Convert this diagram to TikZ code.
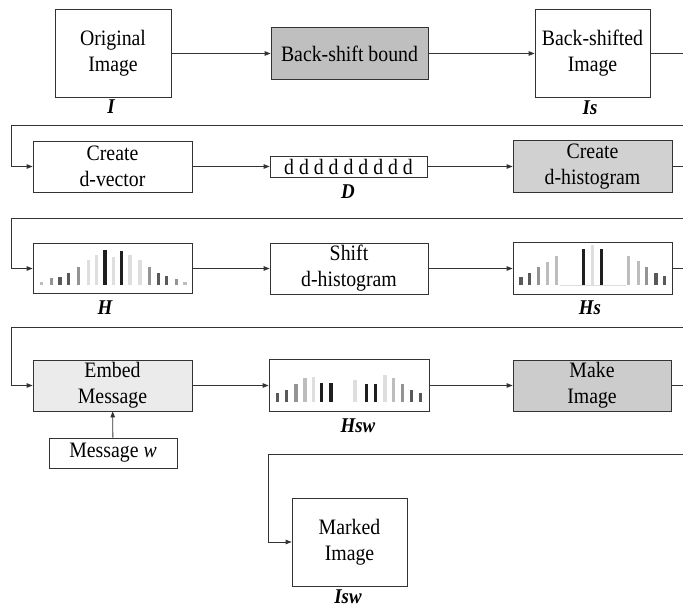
\documentclass[tikz,border=0pt]{standalone}
\usepackage{fontspec}
\setmainfont{Liberation Serif}[FakeStretch=0.9]
\usetikzlibrary{arrows.meta}
\colorlet{hk}{black!88}
\colorlet{hd}{black!65}
\colorlet{hm}{black!42}
\colorlet{hl}{black!26}
\colorlet{hf}{black!13}
\begin{document}
\begin{tikzpicture}[x=1pt,y=-1pt,
  box/.style={draw=black!80, line width=0.8pt, align=center, inner sep=0pt,
    font=\fontsize{22}{26}\selectfont},
  lbl/.style={font=\fontsize{21}{24}\selectfont\bfseries\itshape},
  conn/.style={draw=black!80, line width=0.8pt},
  arr/.style={conn, -{Triangle[length=6pt,width=4.5pt]}},
]
\useasboundingbox (0,0) rectangle (683,607);

% row 1
\node[box, minimum width=116pt, minimum height=88pt] (orig) at (113,53.5) {Original\\Image};
\node[box, fill=black!25, minimum width=157pt, minimum height=52pt] (bsb) at (349.5,53.5) {Back-shift bound};
\node[box, minimum width=115pt, minimum height=88pt] (bsimg) at (592.5,53.5) {Back-shifted\\Image};
\node[lbl] (lI) at (111,107) {I};
\node[lbl] (lIs) at (590,108) {Is};

% row 2
\node[box, minimum width=159pt, minimum height=51pt] (cdv) at (112.5,166.5) {Create\\d-vector};
\node[box, minimum width=157pt, minimum height=21pt] (dvec) at (348.5,166.5) {d d d d d d d d d};
\node[box, fill=black!18, minimum width=159pt, minimum height=52pt] (cdh) at (592.5,166.5) {Create\\d-histogram};
\node[lbl] (lD) at (348,192) {D};

% row 3
\node[box, minimum width=159pt, minimum height=50pt] (H) at (112.5,268.5) {};
\node[box, minimum width=158pt, minimum height=51pt] (shift) at (349,268.5) {Shift\\d-histogram};
\node[box, minimum width=159pt, minimum height=52pt] (Hs) at (592.5,268.5) {};
\node[lbl] (lH) at (105,308) {H};
\node[lbl] (lHs) at (590,308) {Hs};

% row 4
\node[box, fill=black!8, minimum width=159pt, minimum height=51pt] (embed) at (112.5,385.5) {Embed\\Message};
\node[box, minimum width=160pt, minimum height=52pt] (Hsw) at (349,385.5) {};
\node[box, fill=black!20, minimum width=158pt, minimum height=51pt] (make) at (592,385.5) {Make\\Image};
\node[lbl] (lHsw) at (358,426) {Hsw};
\node[box, minimum width=128pt, minimum height=30pt] (msg) at (113,453) {Message \textit{w}};

% row 5
\node[box, minimum width=115pt, minimum height=88pt] (marked) at (349.5,542) {Marked\\Image};
\node[lbl] (lIsw) at (348,597) {Isw};

% histogram bars
\foreach \x/\t/\c in {41.7/281.7/hl, 51.7/278.3/hm, 60/276.7/hd, 68.3/272.7/hd, 78.3/266.7/hm,
  88.3/260/hf, 96.7/255/hf, 105/250/hk, 113.3/256.7/hf, 121.7/250.7/hk, 130/255/hf,
  140/260/hf, 149.3/267.3/hm, 158.3/272.7/hd, 166.7/276/hd, 176.7/279.3/hm, 185/281.7/hl}
  \fill[\c] (\x-1.7,285) rectangle (\x+1.7,\t);
\foreach \x/\t/\c in {521/276.7/hd, 529.3/273.3/hd, 538.3/267.3/hm, 547.3/261.7/hl, 556.7/256/hl,
  583.3/249.3/hk, 592.3/245/hf, 601.7/249.3/hk, 628.3/256/hl, 638.3/260.7/hl, 646.7/267.3/hm,
  656/272.7/hd, 664.3/276/hd}
  \fill[\c] (\x-1.7,285) rectangle (\x+1.7,\t);
\draw[hf, line width=0.6pt] (560,285) -- (626,285);
\foreach \x/\t/\c in {277.7/393.3/hd, 286.7/390/hd, 296/384/hm, 305/378.3/hl, 313.3/376.7/hf,
  321.7/383.3/hk, 331/383.3/hk, 355/380/hf, 366.7/384/hk, 375.7/384/hk, 385/375/hf,
  393.3/378.3/hl, 402.7/384/hm, 411.7/390/hd, 420.7/393.3/hd}
  \fill[\c] (\x-1.7,402.3) rectangle (\x+1.7,\t);

% turning points
\coordinate (r1) at (686,53.5);
\coordinate (l1) at (11,125);
\coordinate (r2) at (686,166.5);
\coordinate (l2) at (11,218);
\coordinate (r3) at (686,268.5);
\coordinate (l3) at (11,327);
\coordinate (r4) at (686,385.5);
\coordinate (l4) at (268,454);

% connectors
\draw[arr] (orig) -- (bsb);
\draw[arr] (bsb) -- (bsimg);
\draw[arr] (bsimg.east) -- (r1) |- (l1) |- (cdv.west);
\draw[arr] (cdv) -- (dvec);
\draw[arr] (dvec) -- (cdh);
\draw[arr] (cdh.east) -- (r2) |- (l2) |- (H.west);
\draw[arr] (H) -- (shift);
\draw[arr] (shift) -- (Hs);
\draw[arr] (Hs.east) -- (r3) |- (l3) |- (embed.west);
\draw[arr] (embed) -- (Hsw);
\draw[arr] (Hsw) -- (make);
\draw[arr] (msg) -- (embed);
\draw[arr] (make.east) -- (r4) |- (l4) |- (marked.west);
\end{tikzpicture}
\end{document}
